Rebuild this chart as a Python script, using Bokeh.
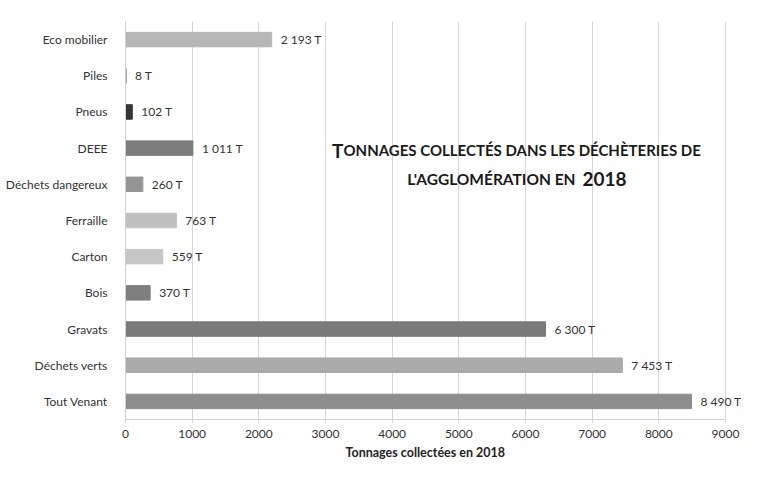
from bokeh.plotting import figure
from bokeh.models import FactorRange, Range1d, FixedTicker, ColumnDataSource, Label, LabelSet, Title
from bokeh.core.properties import value
from bokeh.embed import file_html
from bokeh.resources import INLINE

categories = ["Eco mobilier", "Piles", "Pneus", "DEEE", "Déchets dangereux", "Ferraille",
              "Carton", "Bois", "Gravats", "Déchets verts", "Tout Venant"]
tonnages = [2193, 8, 102, 1011, 260, 763, 559, 370, 6300, 7453, 8490]
bar_colors = ["#b6b6b6", "#555555", "#363636", "#7c7c7c", "#949494", "#c0c0c0",
              "#c6c6c6", "#7e7e7e", "#7a7a7a", "#aaaaaa", "#8d8d8d"]
x_ticks = [0, 1000, 2000, 3000, 4000, 5000, 6000, 7000, 8000, 9000]
title_first = "T"
title_rest = "ONNAGES COLLECTÉS DANS LES DÉCHÈTERIES DE"
title_second = "L'AGGLOMÉRATION EN"
title_year = "2018"
x_title = "Tonnages collectées en 2018"

labels = [f"{v:,}".replace(",", " ") + " T" for v in tonnages]

src = ColumnDataSource(dict(cat=categories, val=tonnages, col=bar_colors, lab=labels))

FONT = "Lato"

p = figure(width=749, height=461, output_backend="svg", toolbar_location=None,
           y_range=FactorRange(*list(reversed(categories)), range_padding=0),
           x_range=Range1d(0, 9360),
           min_border_left=125, min_border_right=0, min_border_top=21, min_border_bottom=0)
p.background_fill_color = "white"
p.border_fill_color = "white"
p.outline_line_color = None

p.hbar(y="cat", right="val", left=0, height=0.4, color="col", line_color="col", source=src)
p.add_layout(LabelSet(x="val", y="cat", text="lab", source=src, x_offset=9,
                      text_baseline="middle", text_align="left", text_font=value(FONT),
                      text_font_size="12px", text_color="#333333"))

p.xaxis.ticker = FixedTicker(ticks=x_ticks)
p.xaxis.bounds = (0, 9000)
p.xaxis.major_label_text_font = FONT
p.xaxis.major_label_text_font_size = "12px"
p.xaxis.major_label_text_color = "#333333"
p.xaxis.major_label_standoff = 7
p.xaxis.axis_line_color = "#d0d0d0"
p.xaxis.major_tick_line_color = "#d0d0d0"
p.xaxis.major_tick_out = 3
p.xaxis.major_tick_in = 0
p.xaxis.minor_tick_line_color = None

p.yaxis.major_label_text_font = FONT
p.yaxis.major_label_text_font_size = "12px"
p.yaxis.major_label_text_color = "#333333"
p.yaxis.major_label_standoff = 12
p.yaxis.axis_line_color = "#d0d0d0"
p.yaxis.major_tick_line_color = None
p.yaxis.minor_tick_line_color = None

p.xgrid.grid_line_color = "#d6d6d6"
p.ygrid.grid_line_color = None

# axis title placed under the 0-9000 scale
p.add_layout(Title(text=x_title, align="left", offset=220, standoff=4,
                   text_font=FONT, text_font_style="bold", text_font_size="12.5px",
                   text_color="#222222"), "below")

common = dict(text_baseline="alphabetic", text_font=FONT, text_font_style="bold",
              text_color="#1a1a1a")
p.add_layout(Label(x=3270, y=7.44, text=title_first, text_align="right",
                   text_font_size="19px", **common))
p.add_layout(Label(x=3270, y=7.44, text=title_rest, text_align="left",
                   text_font_size="15px", **common))
p.add_layout(Label(x=6750, y=6.65, text=title_second, text_align="right",
                   text_font_size="15.5px", **common))
p.add_layout(Label(x=6855, y=6.65, text=title_year, text_align="left",
                   text_font_size="19px", **common))

open("out.html", "w").write(file_html(p, INLINE))
